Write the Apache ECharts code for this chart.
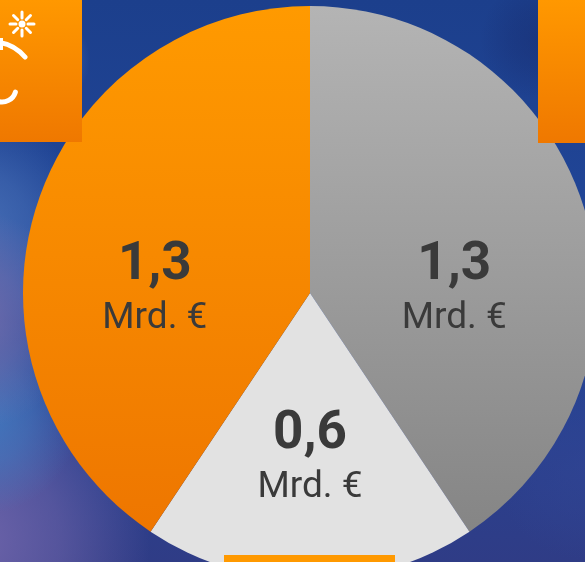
<!DOCTYPE html>
<html><head><meta charset="utf-8">
<script src="https://cdn.jsdelivr.net/npm/echarts@6/dist/echarts.min.js"></script>
<style>html,body{margin:0;padding:0;}#c{width:585px;height:562px;}</style>
</head><body><div id="c"></div>
<script>
const categories = ['Grau', 'Hellgrau', 'Orange'];
const values = [1.3, 0.6, 1.3];
const valueLabels = ['1,3', '0,6', '1,3'];
const unitLabel = 'Mrd. €';

const lin = (c0, c1) => new echarts.graphic.LinearGradient(0, 0, 0, 1, [{offset: 0, color: c0}, {offset: 1, color: c1}]);
const blob = (cx, cy, r, col, a) => ({type: 'circle', z: -9, shape: {cx: cx, cy: cy, r: r},
  style: {fill: new echarts.graphic.RadialGradient(0.5, 0.5, 0.5, [
    {offset: 0, color: 'rgba(' + col + ',' + a + ')'}, {offset: 0.5, color: 'rgba(' + col + ',' + (a * 0.6) + ')'}, {offset: 1, color: 'rgba(' + col + ',0)'}])}});
const sliceColors = [lin('#b4b4b4', '#858585'), '#e2e2e2', lin('#ff9a00', '#ee7600')];
const shifts = [[4, 41], [0, 21], [-15, 41]];

const chart = echarts.init(document.getElementById('c'));
chart.setOption({
  animation: false,
  graphic: [
    {type: 'rect', z: -10, shape: {x: 0, y: 0, width: 585, height: 562},
     style: {fill: new echarts.graphic.LinearGradient(0, 0, 0, 1, [
       {offset: 0, color: '#1c3f8c'}, {offset: 0.5, color: '#22479a'}, {offset: 1, color: '#2f3c86'}])}},
    blob(40, 60, 50, '90,140,210', 0.6),
    blob(-30, 230, 120, '75,115,185', 0.9),
    blob(-30, 540, 180, '110,100,170', 1),
    blob(-20, 415, 100, '65,125,195', 0.9),
    blob(-30, 320, 110, '112,108,172', 1),
    blob(540, 40, 60, '20,30,90', 0.3),
    blob(585, 470, 90, '50,70,150', 0.5),
    {type: 'rect', z: 100, shape: {x: 0, y: 0, width: 82, height: 142}, style: {fill: lin('#ff9800', '#ef7800')}},
    {type: 'rect', z: 100, shape: {x: 538, y: 0, width: 47, height: 143}, style: {fill: lin('#ff9800', '#ef7800')}},
    {type: 'rect', z: 100, shape: {x: 224, y: 555, width: 171, height: 7}, style: {fill: '#ff9900'}},
    {type: 'circle', z: 101, shape: {cx: 22, cy: 24, r: 3.5}, style: {fill: '#fff'}},
    {type: 'group', z: 101, x: 22, y: 24, children: [0,45,90,135,180,225,270,315].map(a => ({
      type: 'line', z: 101,
      shape: {x1: 6*Math.cos(a*Math.PI/180), y1: 6*Math.sin(a*Math.PI/180), x2: 12*Math.cos(a*Math.PI/180), y2: 12*Math.sin(a*Math.PI/180)},
      style: {stroke: '#fff', lineWidth: 3, lineCap: 'round'}}))},
    {type: 'bezierCurve', z: 101, shape: {x1: -3, y1: 42, cpx1: 14, cpy1: 44, x2: 25, y2: 57}, style: {stroke: '#fff', lineWidth: 5, lineCap: 'round', fill: null}},
    {type: 'rect', z: 101, shape: {x: 0, y: 38, width: 3, height: 12}, style: {fill: '#fff'}},
    {type: 'arc', z: 101, shape: {cx: 2, cy: 88, r: 14, startAngle: 0.3, endAngle: Math.PI * 0.62, clockwise: true}, style: {stroke: '#fff', lineWidth: 5, lineCap: 'round', fill: null}}
  ],
  series: [{
    type: 'pie',
    center: [310, 293],
    radius: 287,
    startAngle: 90,
    clockwise: true,
    silent: true,
    itemStyle: {borderWidth: 0},
    labelLine: {show: false},
    data: categories.map((n, i) => ({
      name: n, value: values[i],
      itemStyle: {color: sliceColors[i], borderWidth: 0},
      label: {
        show: true, position: 'inside',
        formatter: '{v|' + valueLabels[i] + '}\n{u|' + unitLabel + '}',
        rich: {
          v: {fontFamily: 'Roboto', fontWeight: 'bold', fontSize: 53, color: '#3a3a3a', lineHeight: 54, align: 'center'},
          u: {fontFamily: 'Roboto', fontSize: 37, color: '#3a3a3a', lineHeight: 52, align: 'center'}
        }
      }
    })),
    labelLayout: (p) => ({dx: shifts[p.dataIndex][0], dy: shifts[p.dataIndex][1]})
  }]
});
</script></body></html>
